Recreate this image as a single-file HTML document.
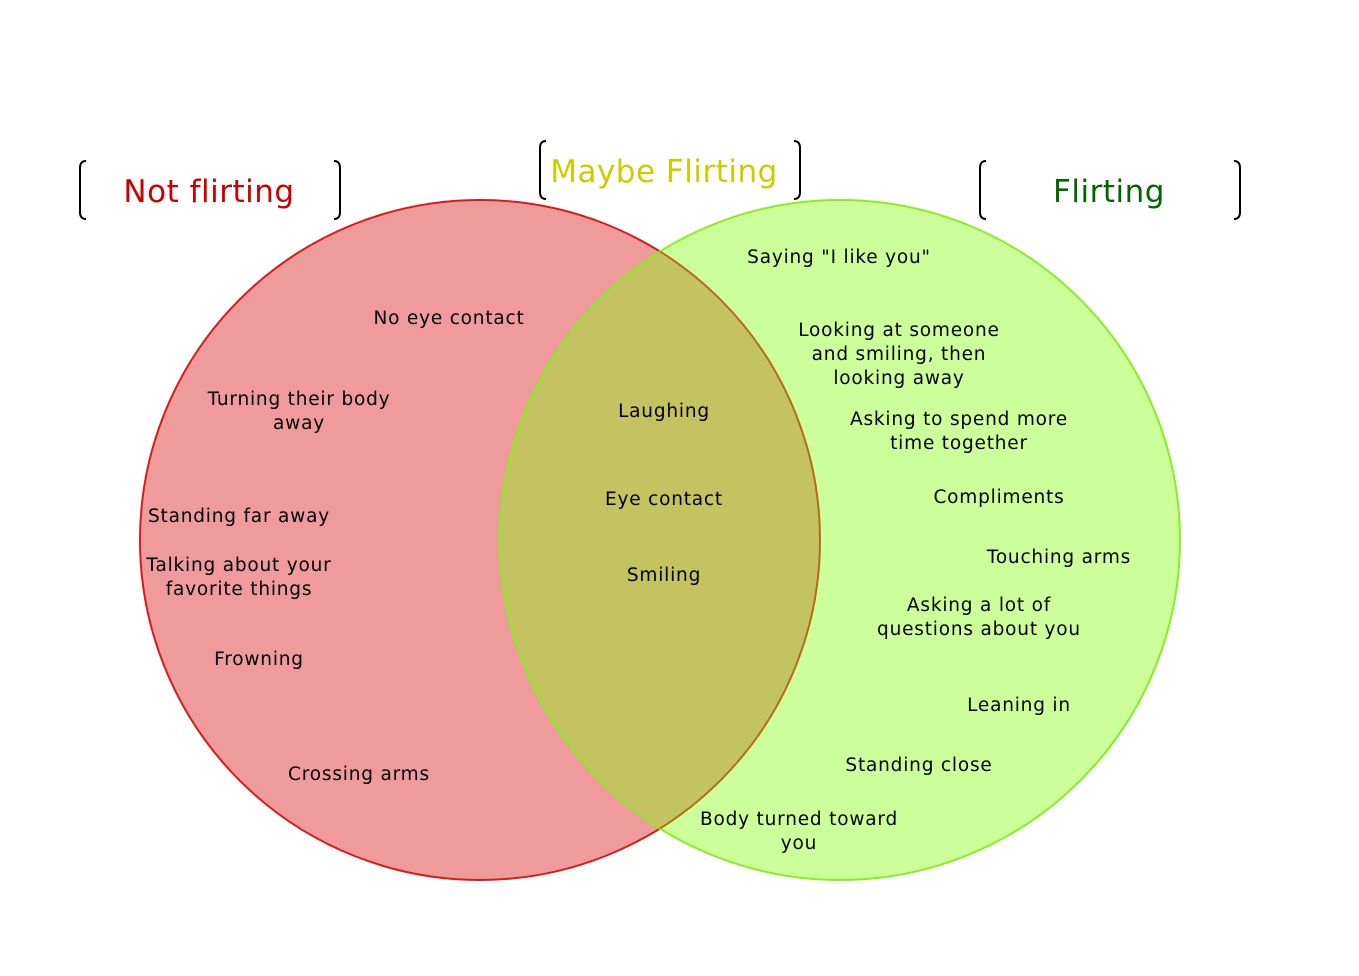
<!DOCTYPE html>
<html><head><meta charset="utf-8"><style>html,body{margin:0;padding:0;background:#fff;overflow:hidden}</style></head>
<body>
<svg width="1359" height="976" viewBox="0 0 1359 976" xmlns="http://www.w3.org/2000/svg" font-family="DejaVu Sans, Liberation Sans, sans-serif" style="display:block">
<defs>
<clipPath id="cr"><circle cx="840" cy="540" r="340"/></clipPath>
</defs>
<circle cx="480" cy="540" r="340" fill="#ef9b9b" stroke="#d81a1a" stroke-width="2"/>
<circle cx="840" cy="540" r="340" fill="#ccff99"/>
<circle cx="480" cy="540" r="340" fill="#c3c361" clip-path="url(#cr)"/>
<circle cx="840" cy="540" r="340" fill="none" stroke="#88ee22" stroke-width="2"/>
<circle cx="480" cy="540" r="340" fill="none" stroke="#b86a1a" stroke-width="2" clip-path="url(#cr)"/>

<g fill="none" stroke="#000" stroke-width="2">
<path d="M86 161 Q80 161 80 168 L80 212 Q80 219 86 219"/>
<path d="M334 161 Q340 161 340 168 L340 212 Q340 219 334 219"/>
<path d="M546 141 Q540 141 540 148 L540 192 Q540 199 546 199"/>
<path d="M794 141 Q800 141 800 148 L800 192 Q800 199 794 199"/>
<path d="M986 161 Q980 161 980 168 L980 212 Q980 219 986 219"/>
<path d="M1234 161 Q1240 161 1240 168 L1240 212 Q1240 219 1234 219"/>
</g>
<g font-size="31" text-anchor="middle" letter-spacing="0.5">
<text x="209" y="202" fill="#cc0000">Not flirting</text>
<text x="664" y="182" fill="#cccc00">Maybe Flirting</text>
<text x="1109" y="202" fill="#006600">Flirting</text>
</g>
<g font-size="18.5" text-anchor="middle" fill="#000" letter-spacing="0.8">
<text x="449" y="324">No eye contact</text>
<text x="299" y="405">Turning their body</text>
<text x="299" y="429">away</text>
<text x="239" y="522">Standing far away</text>
<text x="239" y="571">Talking about your</text>
<text x="239" y="595">favorite things</text>
<text x="259" y="665">Frowning</text>
<text x="359" y="780">Crossing arms</text>
<text x="664" y="417">Laughing</text>
<text x="664" y="505">Eye contact</text>
<text x="664" y="581">Smiling</text>
<text x="839" y="263">Saying "I like you"</text>
<text x="899" y="336">Looking at someone</text>
<text x="899" y="360">and smiling, then</text>
<text x="899" y="384">looking away</text>
<text x="959" y="425">Asking to spend more</text>
<text x="959" y="449">time together</text>
<text x="999" y="503">Compliments</text>
<text x="1059" y="563">Touching arms</text>
<text x="979" y="611">Asking a lot of</text>
<text x="979" y="635">questions about you</text>
<text x="1019" y="711">Leaning in</text>
<text x="919" y="771">Standing close</text>
<text x="799" y="825">Body turned toward</text>
<text x="799" y="849">you</text>
</g>
</svg>
</body></html>
